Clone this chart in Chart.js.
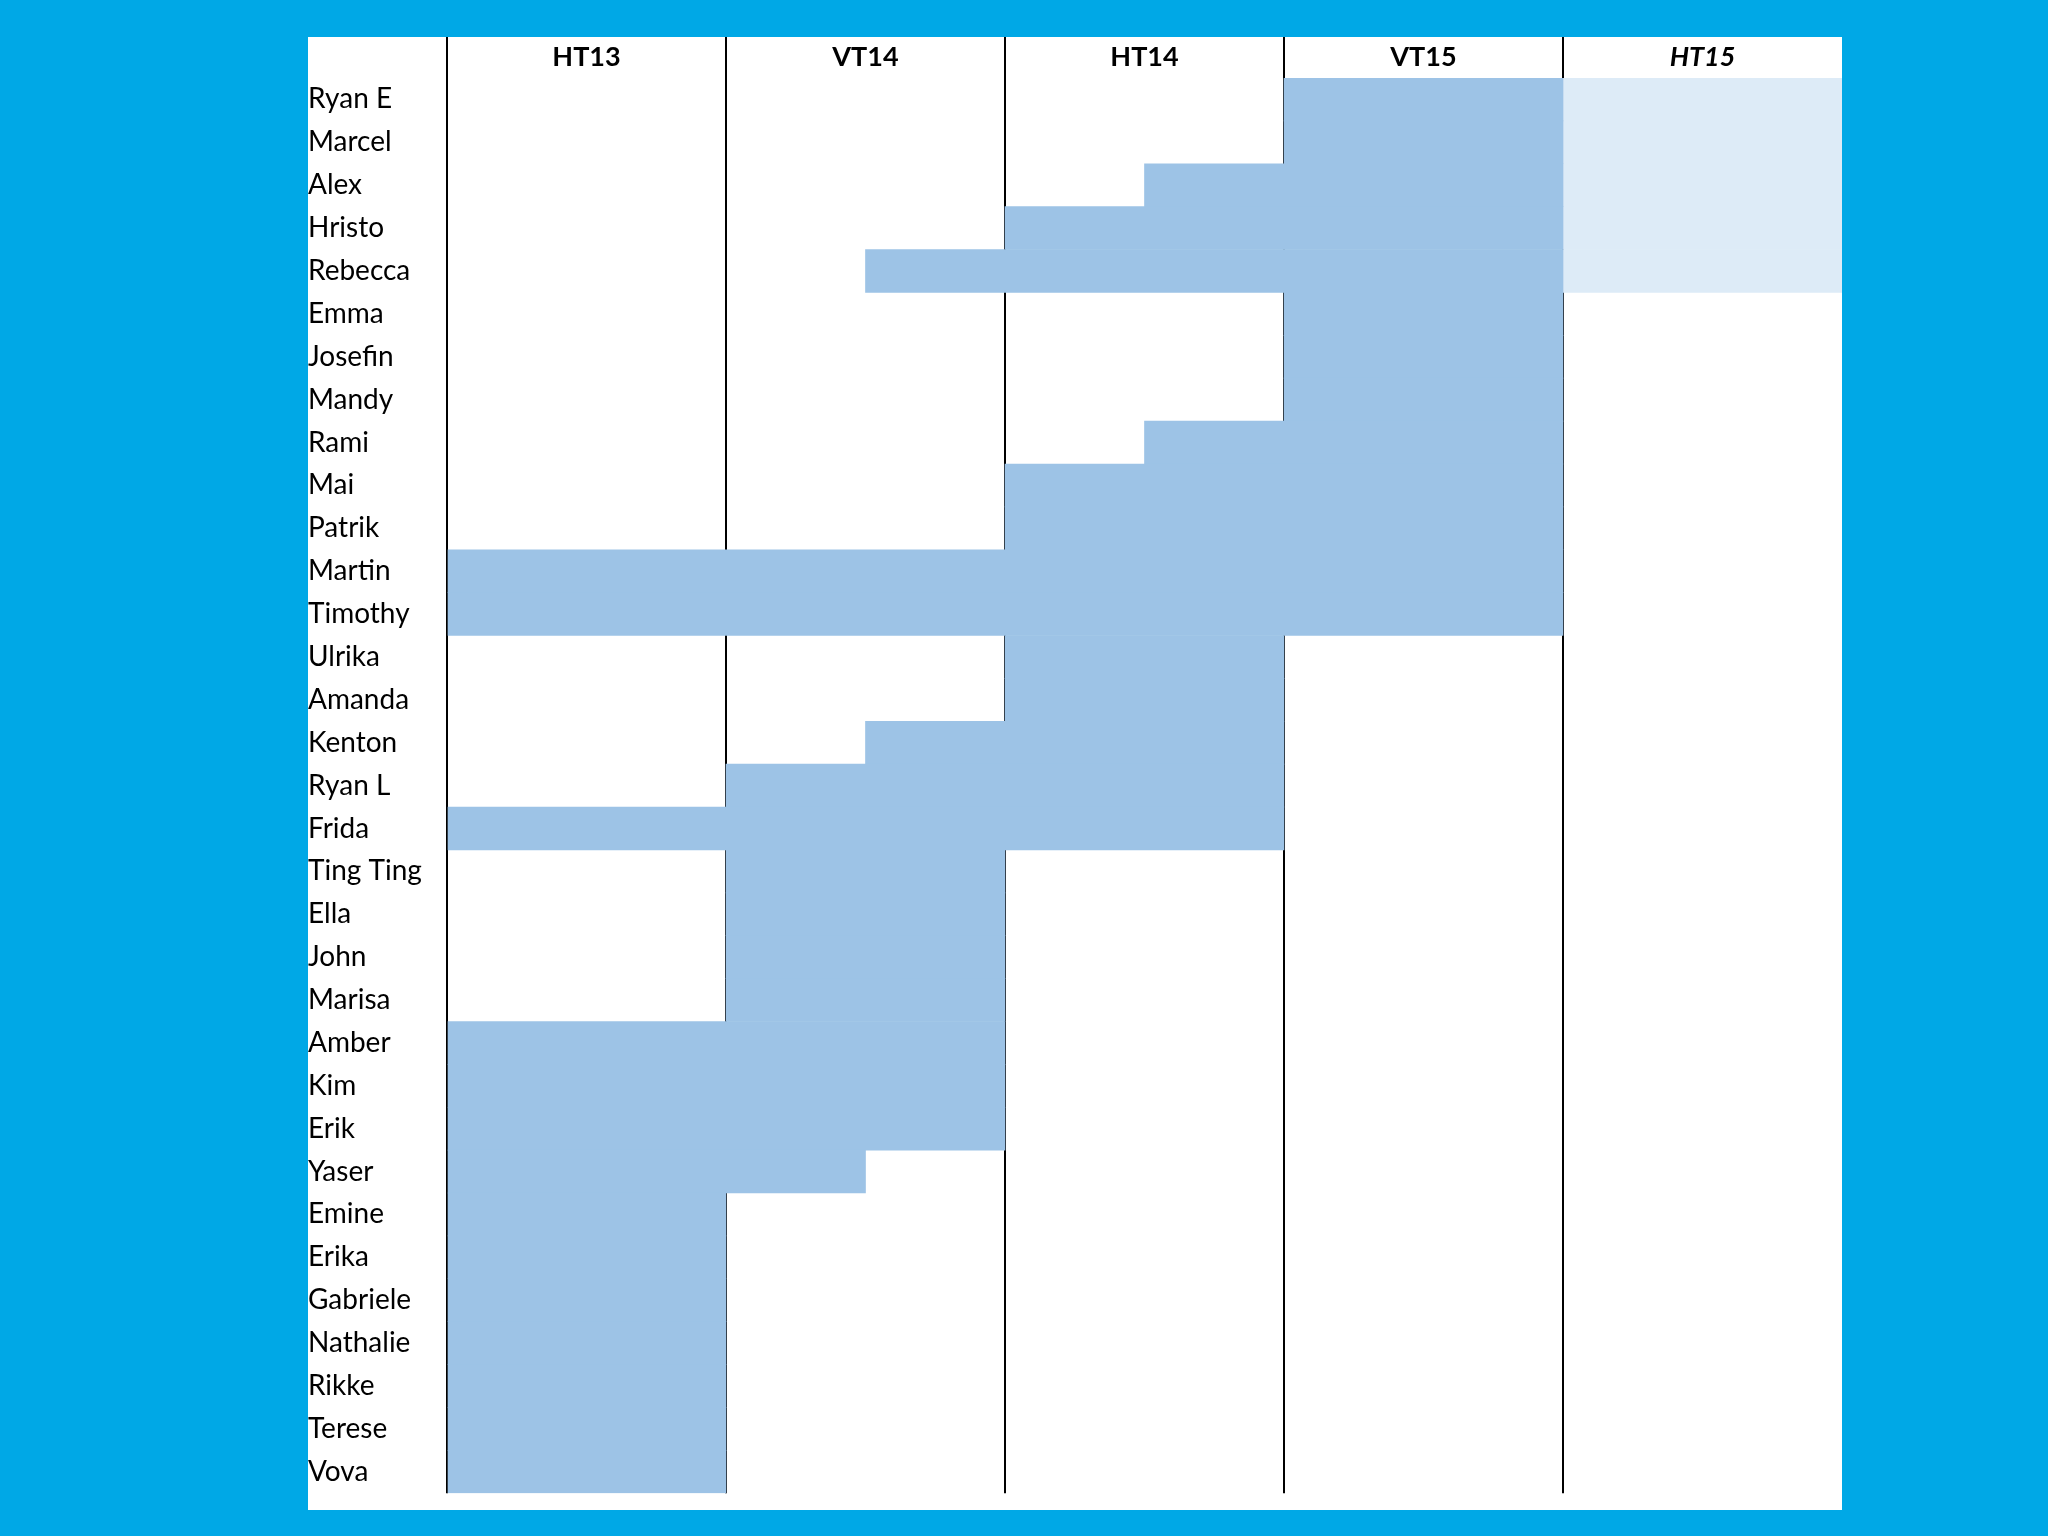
<!DOCTYPE html>
<html><head><meta charset="utf-8">
<script src="https://cdn.jsdelivr.net/npm/chart.js@4"></script>
<style>
body{margin:0;background:#00A8E6;width:2048px;height:1536px;overflow:hidden}
#wrap{position:absolute;left:308px;top:37px;width:1534px;height:1473px;background:#fff}
</style></head><body>
<div id="wrap"><canvas id="c" width="1534" height="1473"></canvas></div>
<script>
// Terms, each split in two halves on the x scale (0..10)
const terms = ['HT13', 'VT14', 'HT14', 'VT15', 'HT15'];
const names = ['Ryan E','Marcel','Alex','Hristo','Rebecca','Emma','Josefin','Mandy','Rami','Mai',
  'Patrik','Martin','Timothy','Ulrika','Amanda','Kenton','Ryan L','Frida','Ting Ting','Ella',
  'John','Marisa','Amber','Kim','Erik','Yaser','Emine','Erika','Gabriele','Nathalie','Rikke','Terese','Vova'];
// [start, end] in half-terms
const active = [[6,8],[6,8],[5,8],[4,8],[3,8],[6,8],[6,8],[6,8],[5,8],[4,8],
  [4,8],[0,8],[0,8],[4,6],[4,6],[3,6],[2,6],[0,6],[2,4],[2,4],
  [2,4],[2,4],[0,4],[0,4],[0,4],[0,3],[0,2],[0,2],[0,2],[0,2],[0,2],[0,2],[0,2]];
// planned (light) spans
const planned = [[8,10],[8,10],[8,10],[8,10],[8,10],null,null,null,null,null,
  null,null,null,null,null,null,null,null,null,null,
  null,null,null,null,null,null,null,null,null,null,null,null,null];

new Chart(document.getElementById('c'), {
  type: 'bar',
  data: {
    labels: names,
    datasets: [
      { data: active, backgroundColor: '#9DC3E6', barPercentage: 1, categoryPercentage: 1 },
      { data: planned, backgroundColor: '#DDEBF7', barPercentage: 1, categoryPercentage: 1 }
    ]
  },
  options: {
    indexAxis: 'y',
    responsive: false,
    animation: false,
    grouped: false,
    plugins: { legend: { display: false }, tooltip: { enabled: false } },
    layout: { padding: 0 },
    scales: {
      x: {
        position: 'top', min: 0, max: 10,
        border: { display: false },
        grid: {
          color: c => (c.tick && c.tick.value % 2 === 0 && c.tick.value < 10) ? '#000' : 'rgba(0,0,0,0)',
          lineWidth: 2, tickLength: 41
        },
        ticks: {
          stepSize: 1, autoSkip: false, maxRotation: 0, padding: -36, color: '#000',
          font: c => ({ family: 'Lato', size: 27, weight: 'bold', style: c.tick && c.tick.value === 9 ? 'italic' : 'normal' }),
          callback: v => v % 2 === 1 ? terms[(v - 1) / 2] : ''
        },
        afterFit: s => { s.height = 41; }
      },
      y: {
        border: { display: false },
        grid: { display: false },
        ticks: { crossAlign: 'far', color: '#000', font: { family: 'Lato', size: 28 }, padding: 0, autoSkip: false },
        afterFit: s => { s.width = 139; }
      }
    }
  }
});
</script>
</body></html>
